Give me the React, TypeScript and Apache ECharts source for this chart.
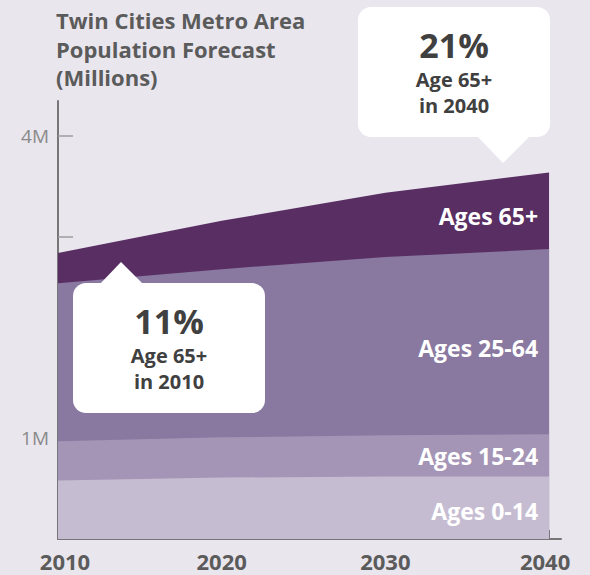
import React, { useEffect, useRef } from "react";
import * as echarts from "echarts";

const years = [2010, 2020, 2030, 2040];
const ages0to14 = [0.58, 0.61, 0.62, 0.62];
const ages15to24 = [0.39, 0.40, 0.41, 0.42];
const ages25to64 = [1.57, 1.67, 1.77, 1.84];
const ages65plus = [0.30, 0.48, 0.64, 0.76];
const seriesNames = ["Ages 0-14", "Ages 15-24", "Ages 25-64", "Ages 65+"];
const yTickValues = [1, 2, 3, 4];
const yLabelValues = [1, 4];
const titleText = "Twin Cities Metro Area\nPopulation Forecast\n(Millions)";
const callouts = [
  { pct: "11%", line1: "Age 65+", line2: "in 2010" },
  { pct: "21%", line1: "Age 65+", line2: "in 2040" },
];

const colors = ["#c6bcd2", "#a494b5", "#8978a0", "#592e63"];
const BG = "#e9e6ee";
const FONT = "'Open Sans', 'Noto Sans', sans-serif";

export default function App() {
  const ref = useRef<HTMLDivElement>(null);
  useEffect(() => {
    if (!ref.current) return;
    const chart = echarts.init(ref.current, null, { renderer: "svg" });
    const stacks = [ages0to14, ages15to24, ages25to64, ages65plus];
    // cumulative tops of each band
    const cumulative: number[][] = [];
    stacks.forEach((arr, i) => {
      cumulative.push(arr.map((v, j) => v + (i > 0 ? cumulative[i - 1][j] : 0)));
    });
    const xLabelStyle = {
      fontFamily: FONT,
      fontSize: 22,
      fontWeight: "bold",
      color: "#5b5b5b",
    };
    const option: any = {
      animation: false,
      backgroundColor: BG,
      textStyle: { fontFamily: FONT },
      title: {
        text: titleText,
        left: 51,
        top: 1,
        textStyle: {
          fontFamily: FONT,
          fontSize: 22,
          fontWeight: "bold",
          color: "#5b5b5b",
          lineHeight: 28.5,
        },
      },
      grid: { left: 58, right: 29, top: 101, bottom: 36, containLabel: false },
      xAxis: {
        type: "value",
        min: 2010,
        max: 2040.73,
        interval: 10,
        splitLine: { show: false },
        axisLine: { show: true, lineStyle: { color: "#767676", width: 2 } },
        axisTick: {
          show: true,
          inside: true,
          length: 9,
          customValues: [2020, 2030, 2040],
          lineStyle: { color: "#767676", width: 2 },
        },
        axisLabel: {
          customValues: years,
          formatter: (v: number) =>
            v === years[0]
              ? `{first|${v}}`
              : v === years[years.length - 1]
              ? `{last|${v}}`
              : `{mid|${v}}`,
          ...xLabelStyle,
          margin: 11,
          rich: {
            first: { ...xLabelStyle, padding: [0, 0, 0, 14] },
            mid: { ...xLabelStyle },
            last: { ...xLabelStyle, padding: [0, 8, 0, 0] },
          },
        },
      },
      yAxis: {
        type: "value",
        min: 0,
        max: 4.35,
        interval: 1,
        splitLine: { show: false },
        axisLine: { show: true, lineStyle: { color: "#767676", width: 2 } },
        axisTick: {
          show: true,
          inside: true,
          length: 15,
          customValues: yTickValues,
          lineStyle: { color: "#9c9c9c", width: 1.5 },
        },
        axisLabel: {
          customValues: yLabelValues,
          formatter: (v: number) => v + "M",
          fontFamily: FONT,
          fontSize: 19,
          color: "#8a8a8a",
          margin: 9,
        },
      },
      series: cumulative
        .map((vals, i) => ({
          name: seriesNames[i],
          type: "line",
          symbol: "none",
          lineStyle: { width: 0 },
          areaStyle: { color: colors[i], opacity: 1, origin: "start" },
          data: years.map((y, j) => [y, vals[j]]),
          z: 2 + (cumulative.length - i),
        }))
        .reverse(),
    };
    chart.setOption(option);

    // area labels, placed inside each band near the right edge
    const labelYear = 2036;
    const labelOffsets = [3, 0, 5, 0];
    const lerp = (arr: number[], yr: number) => {
      const t = (yr - 2030) / 10;
      return arr[2] + (arr[3] - arr[2]) * t;
    };
    let cum = 0;
    const labelTexts: any[] = [];
    const rightPx = chart.convertToPixel({ gridIndex: 0 }, [2040, 0])[0] - 11;
    stacks.forEach((arr, i) => {
      const v = lerp(arr, labelYear);
      const mid = cum + v / 2;
      cum += v;
      const py = chart.convertToPixel({ gridIndex: 0 }, [labelYear, mid])[1];
      labelTexts.push({
        type: "text",
        x: rightPx,
        y: py + labelOffsets[i],
        z: 100,
        style: {
          text: seriesNames[i],
          fill: "#ffffff",
          font: `bold 23px ${FONT}`,
          align: "right",
          verticalAlign: "middle",
        },
      });
    });

    const bubble = (
      bx: number,
      by: number,
      pointer: number[][],
      c: { pct: string; line1: string; line2: string }
    ) => [
      {
        type: "rect",
        z: 100,
        shape: { x: bx, y: by, width: 192, height: 130, r: 13 },
        style: { fill: "#ffffff" },
      },
      {
        type: "polygon",
        z: 100,
        shape: { points: pointer },
        style: { fill: "#ffffff" },
      },
      {
        type: "text",
        z: 101,
        x: bx + 96,
        y: by + 38,
        style: {
          text: c.pct,
          fill: "#404040",
          font: `bold 34px ${FONT}`,
          lineHeight: 34,
          align: "center",
          verticalAlign: "middle",
        },
      },
      {
        type: "text",
        z: 101,
        x: bx + 96,
        y: by + 72,
        style: {
          text: c.line1,
          fill: "#404040",
          font: `bold 20px ${FONT}`,
          lineHeight: 22,
          align: "center",
          verticalAlign: "middle",
        },
      },
      {
        type: "text",
        z: 101,
        x: bx + 96,
        y: by + 98,
        style: {
          text: c.line2,
          fill: "#404040",
          font: `bold 20px ${FONT}`,
          lineHeight: 22,
          align: "center",
          verticalAlign: "middle",
        },
      },
    ];

    chart.setOption({
      graphic: [
        ...labelTexts,
        ...bubble(73, 283, [[99, 285], [121, 262], [144, 285]], callouts[0]),
        ...bubble(358, 7, [[476, 135], [503, 163], [531, 135]], callouts[1]),
      ],
    });

    return () => chart.dispose();
  }, []);
  return (
    <div
      ref={ref}
      style={{ position: "absolute", left: 0, top: 0, width: 590, height: 575, background: BG }}
    />
  );
}
